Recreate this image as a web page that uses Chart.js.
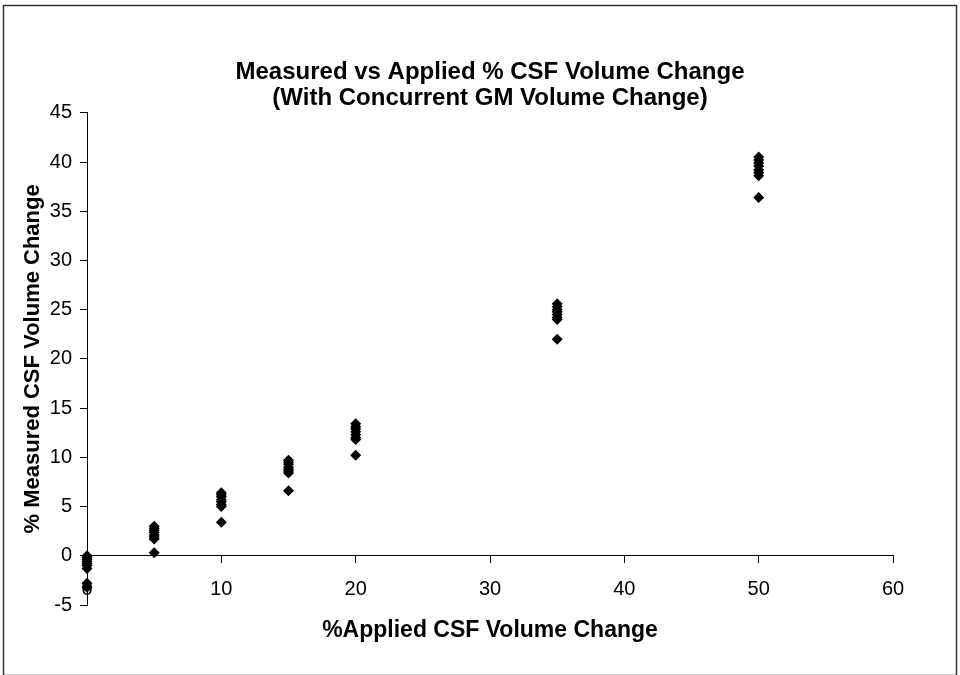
<!DOCTYPE html>
<html>
<head>
<meta charset="utf-8">
<script src="https://cdn.jsdelivr.net/npm/chart.js@4"></script>
<style>
  html, body { margin: 0; padding: 0; background: #fff; }
  #wrap { width: 960px; height: 675px; }
</style>
</head>
<body>
<div id="wrap"><canvas id="csfChart" width="960" height="675"></canvas></div>
<script>
// applied % change levels (x) and the measured % changes read at each level (y)
const appliedLevels = [0, 5, 10, 15, 20, 35, 50];
const measuredAt0  = [0.0, -0.2, -0.4, -0.6, -0.8, -1.0, -1.3, -2.8, -3.2];
const measuredAt5  = [3.0, 2.8, 2.6, 2.4, 2.1, 1.9, 1.7, 0.3];
const measuredAt10 = [6.4, 6.2, 6.0, 5.7, 5.5, 5.2, 5.0, 3.4];
const measuredAt15 = [9.7, 9.5, 9.3, 9.0, 8.8, 8.6, 8.4, 6.6];
const measuredAt20 = [13.4, 13.1, 12.9, 12.6, 12.3, 12.0, 11.8, 10.2];
const measuredAt35 = [25.6, 25.3, 25.0, 24.8, 24.5, 24.2, 24.0, 22.0];
const measuredAt50 = [40.5, 40.2, 39.9, 39.6, 39.2, 38.9, 38.6, 36.4];

const xTicks = [0, 10, 20, 30, 40, 50, 60];
const yTicks = [-5, 0, 5, 10, 15, 20, 25, 30, 35, 40, 45];

const measuredByLevel = [measuredAt0, measuredAt5, measuredAt10, measuredAt15,
                         measuredAt20, measuredAt35, measuredAt50];

let points = [];
appliedLevels.forEach(function (lvl, i) {
    measuredByLevel[i].forEach(function (v) {
        points.push({ x: lvl, y: v });
    });
});

const fontFamily = 'Liberation Sans, Arial, sans-serif';

// outer frame like the original chart box
const framePlugin = {
    id: 'frame',
    beforeDraw: function (chart) {
        const c = chart.ctx;
        c.save();
        c.fillStyle = '#fff';
        c.fillRect(0, 0, chart.width, chart.height);
        c.strokeStyle = '#333';
        c.lineWidth = 1.5;
        c.strokeRect(3.5, 5.5, 953, 670);
        c.restore();
    }
};

const ctx = document.getElementById('csfChart').getContext('2d');

new Chart(ctx, {
    type: 'scatter',
    data: {
        datasets: [{
            label: 'Measured',
            data: points,
            pointStyle: 'rectRot',
            pointRadius: 5.5,
            pointHoverRadius: 5.5,
            backgroundColor: '#000',
            borderColor: '#000',
            borderWidth: 0,
            clip: false
        }]
    },
    plugins: [framePlugin],
    options: {
        responsive: false,
        animation: false,
        devicePixelRatio: 1,
        layout: {
            padding: { top: 59, right: 0, bottom: 70, left: 20 }
        },
        scales: {
            x: {
                type: 'linear',
                position: { y: 0 },
                min: 0,
                max: 60,
                afterBuildTicks: function (scale) {
                    scale.ticks = xTicks.map(function (v) { return { value: v }; });
                },
                ticks: {
                    color: '#000',
                    padding: 15,
                    font: { family: fontFamily, size: 20 }
                },
                grid: { drawOnChartArea: false, tickLength: 7, color: '#000' },
                border: { color: '#000', width: 1 },
                title: {
                    display: true,
                    text: '%Applied CSF Volume Change',
                    color: '#000',
                    padding: { top: 0, bottom: 0 },
                    font: { family: fontFamily, size: 23, weight: 'bold' }
                }
            },
            y: {
                type: 'linear',
                position: 'left',
                min: -5,
                max: 45,
                afterBuildTicks: function (scale) {
                    scale.ticks = yTicks.map(function (v) { return { value: v }; });
                },
                afterFit: function (scale) {
                    scale.width = 67;
                },
                ticks: {
                    color: '#000',
                    padding: 8,
                    font: { family: fontFamily, size: 20 }
                },
                grid: { drawOnChartArea: false, tickLength: 7, color: '#000' },
                border: { color: '#000', width: 1 },
                title: {
                    display: true,
                    text: '% Measured CSF Volume Change',
                    color: '#000',
                    padding: { top: 0, bottom: 0 },
                    font: { family: fontFamily, size: 22, weight: 'bold' }
                }
            },
            // empty right-hand box so the plot ends at x=60 like the original
            yRight: {
                type: 'linear',
                position: 'right',
                afterFit: function (scale) {
                    scale.width = 67;
                },
                ticks: { display: false },
                grid: { display: false },
                border: { display: false }
            }
        },
        plugins: {
            legend: { display: false },
            tooltip: { enabled: false },
            title: {
                display: true,
                text: ['Measured vs Applied % CSF Volume Change', '(With Concurrent GM Volume Change)'],
                color: '#000',
                padding: { top: 0, bottom: 1 },
                font: { family: fontFamily, size: 24, weight: 'bold', lineHeight: 1.1 }
            }
        }
    }
});
</script>
</body>
</html>
